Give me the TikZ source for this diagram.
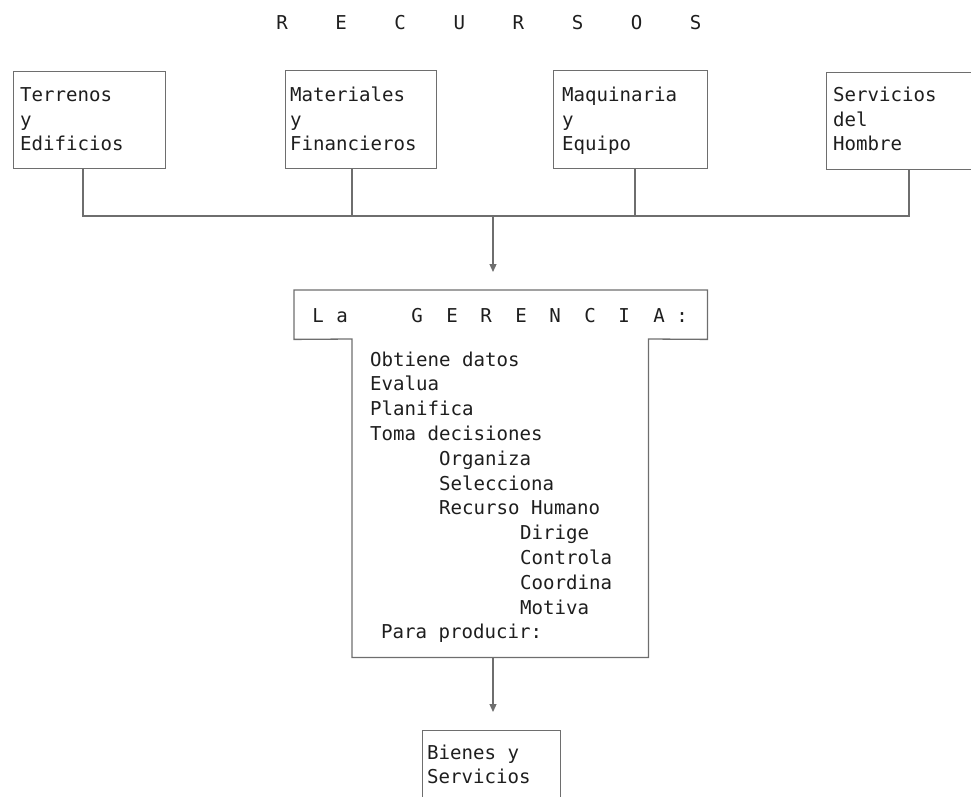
\documentclass[tikz,border=0pt]{standalone}
\usepackage{fontspec}
\setmonofont{DejaVu Sans Mono}
\usetikzlibrary{arrows.meta}
\definecolor{ink}{HTML}{1E1E1E}
\definecolor{rule}{HTML}{6E6E6E}
\tikzset{
  txt/.style={font=\ttfamily\fontsize{19.1}{24}\selectfont, text=ink, inner sep=0pt, anchor=base west},
  letter/.style={txt, anchor=base},
  frame/.style={draw=rule, line width=1.3pt, inner sep=0pt, anchor=north west},
  shell/.style={inner sep=0pt, anchor=north west},
  link/.style={draw=rule, line width=1.2pt},
  tip/.style={-{Triangle[width=7pt,length=8pt]}},
}
\begin{document}
\begin{tikzpicture}[x=1pt,y=-1pt]
\useasboundingbox (0,0) rectangle (971,797);

% heading: spaced-out letters
\foreach \ch [count=\i from 0] in {R,E,C,U,R,S,O,S}
  \node[letter] (rec\i) at (282+\i*59.1,30) {\ch};

% resource boxes (the last one runs past the right edge)
\node[frame, minimum width=152pt, minimum height=97pt] (terr) at (13,71) {};
\node[frame, minimum width=151pt, minimum height=98pt] (mate) at (285,70) {};
\node[frame, minimum width=154pt, minimum height=98pt] (maqu) at (553,70) {};
\node[frame, minimum width=220pt, minimum height=97pt] (serv) at (826,72) {};

\node[txt] (terr1) at (20,102) {Terrenos};
\node[txt] (terr2) at (20,126) {y};
\node[txt] (terr3) at (20,150) {Edificios};
\node[txt] (mate1) at (290,102) {Materiales};
\node[txt] (mate2) at (290,126) {y};
\node[txt] (mate3) at (290,150) {Financieros};
\node[txt] (maqu1) at (562,102) {Maquinaria};
\node[txt] (maqu2) at (562,126) {y};
\node[txt] (maqu3) at (562,150) {Equipo};
\node[txt] (serv1) at (833,102) {Servicios};
\node[txt] (serv2) at (833,126) {del};
\node[txt] (serv3) at (833,150) {Hombre};

% collecting bus
\coordinate (j1) at (83,216);
\coordinate (j2) at (352,216);
\coordinate (jm) at (493,216);
\coordinate (j3) at (635,216);
\coordinate (j4) at (909,216);
\draw[link] (terr.south -| j1) -- (j1) -- (j4) -- (serv.south -| j4);
\draw[link] (mate.south -| j2) -- (j2);
\draw[link] (maqu.south -| j3) -- (j3);

% management block: header strip and body
\node[shell, minimum width=413pt, minimum height=49pt] (ger) at (294,290) {};
\node[shell, minimum width=296pt, minimum height=318pt] (body) at (352,339) {};
\draw[draw=rule, line width=1.3pt]
  (ger.south west) -- (ger.north west) -- (ger.north east) -- (ger.south east)
  -- (body.north east) -- (body.south east) -- (body.south west) -- (body.north west)
  -- cycle;

\draw[link, tip, shorten >=18pt] (jm) -- (ger.north -| jm);

\foreach \ch/\x [count=\i] in {L/318,a/342,G/417,E/452,R/486,E/521,N/555,C/590,I/624,A/659,:/682}
  \node[letter] (ger\i) at (\x,322) {\ch};

\node[txt] (act1)  at (370,366.0) {Obtiene datos};
\node[txt] (act2)  at (370,390.8) {Evalua};
\node[txt] (act3)  at (370,415.6) {Planifica};
\node[txt] (act4)  at (370,440.4) {Toma decisiones};
\node[txt] (act5)  at (439,465.2) {Organiza};
\node[txt] (act6)  at (439,490.0) {Selecciona};
\node[txt] (act7)  at (439,514.8) {Recurso Humano};
\node[txt] (act8)  at (520,539.6) {Dirige};
\node[txt] (act9)  at (520,564.4) {Controla};
\node[txt] (act10) at (520,589.2) {Coordina};
\node[txt] (act11) at (520,614.0) {Motiva};
\node[txt] (act12) at (381,638.8) {Para producir:};

% output
\node[frame, minimum width=138pt, minimum height=90pt] (bien) at (422,730) {};
\node[txt] (bien1) at (427,759) {Bienes y};
\node[txt] (bien2) at (427,783) {Servicios};

\draw[link, tip, shorten >=18pt] (body.south -| jm) -- (bien.north -| jm);
\end{tikzpicture}
\end{document}
